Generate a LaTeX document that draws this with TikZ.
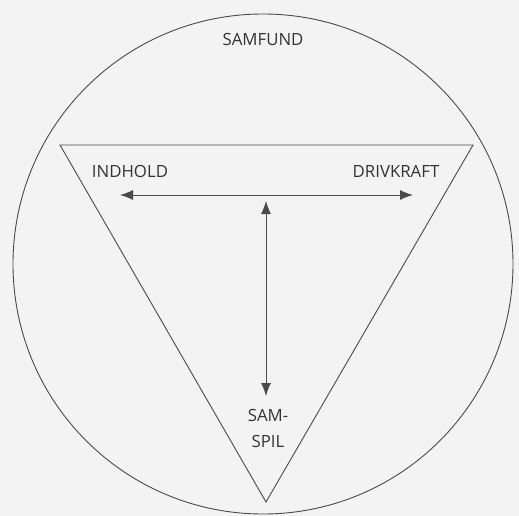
\documentclass[tikz,border=0pt]{standalone}
\usepackage{fontspec}
\setmainfont{Open Sans}
\usetikzlibrary{arrows.meta,calc}
\definecolor{bg}{HTML}{F3F3F3}
\definecolor{ink}{HTML}{4A4A4A}
\definecolor{txt}{HTML}{333333}
\tikzset{
  outline/.style={draw=ink, line width=0.9pt},
  label/.style={text=txt, font=\fontsize{16.8}{26}\selectfont, inner sep=0pt, align=center},
  arr/.style={draw=ink, line width=0.9pt, -{Latex[length=13pt,width=10pt]}},
}
\begin{document}
\begin{tikzpicture}[x=1pt,y=-1pt]
\fill[bg] (0,0) rectangle (519,516);
\useasboundingbox (0,0) rectangle (519,516);
\draw[outline] (263,264) circle (250);
\draw[outline] (60,145) -- (473,145) -- (266,502) -- cycle;
\node[label] (samfund) at (263,40) {SAMFUND};
\node[label] (indhold) at (130,171) {INDHOLD};
\node[label] (drivkraft) at (396,171) {DRIVKRAFT};
\node[label] (samspil) at (268,428) {SAM-\\SPIL};
\coordinate (hl) at (120,195);
\coordinate (hr) at (413,195);
\coordinate (vt) at (266,201);
\coordinate (vb) at (266,396);
\coordinate (hm) at (266,195);
\coordinate (vm) at ($(vt)!0.5!(vb)$);
\draw[arr] (hm) -- (hl);
\draw[arr] (hm) -- (hr);
\draw[arr] (vm) -- (vt);
\draw[arr] (vm) -- (vb);
\end{tikzpicture}
\end{document}
